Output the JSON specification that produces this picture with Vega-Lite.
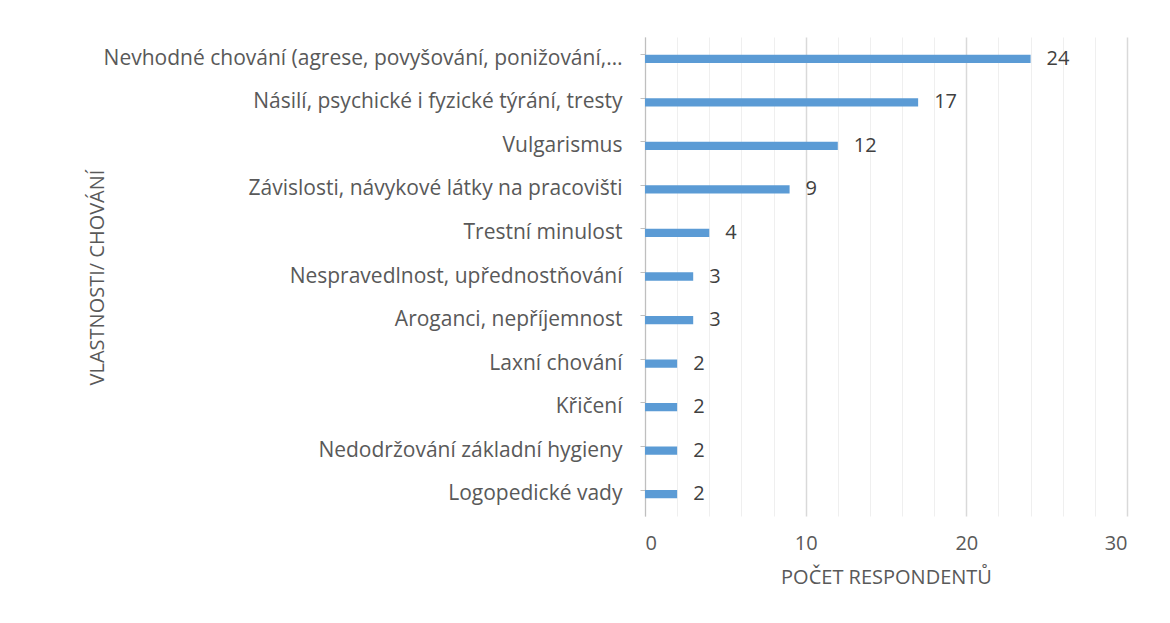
{
  "$schema": "https://vega.github.io/schema/vega-lite/v6.json",
  "autosize": "none",
  "width": 482,
  "height": 479,
  "padding": {"left": 645, "top": 37, "right": 43, "bottom": 107},
  "background": "white",
  "config": {
    "view": {"stroke": null},
    "font": "Open Sans"
  },
  "data": {
    "values": [
      {"kategorie": "Nevhodné chování (agrese, povyšování, ponižování,…", "pocet": 24},
      {"kategorie": "Násilí, psychické i fyzické týrání, tresty", "pocet": 17},
      {"kategorie": "Vulgarismus", "pocet": 12},
      {"kategorie": "Závislosti, návykové látky na pracovišti", "pocet": 9},
      {"kategorie": "Trestní minulost", "pocet": 4},
      {"kategorie": "Nespravedlnost, upřednostňování", "pocet": 3},
      {"kategorie": "Aroganci, nepříjemnost", "pocet": 3},
      {"kategorie": "Laxní chování", "pocet": 2},
      {"kategorie": "Křičení", "pocet": 2},
      {"kategorie": "Nedodržování základní hygieny", "pocet": 2},
      {"kategorie": "Logopedické vady", "pocet": 2}
    ]
  },
  "encoding": {
    "y": {
      "field": "kategorie",
      "type": "nominal",
      "sort": null,
      "scale": {"paddingInner": 0.81, "paddingOuter": 0.405},
      "axis": {
        "title": "VLASTNOSTI/ CHOVÁNÍ",
        "titleFont": "Open Sans",
        "titleFontSize": 20,
        "titleFontWeight": "normal",
        "titleColor": "#595959",
        "titleX": -548,
        "titleY": 240,
        "titleAngle": 270,
        "titleBaseline": "middle",
        "titleAlign": "center",
        "labelFont": "Open Sans",
        "labelFontSize": 21,
        "labelColor": "#595959",
        "labelPadding": 18,
        "labelLimit": 700,
        "bandPosition": 0,
        "domainColor": "#bfbfbf",
        "tickColor": "#bfbfbf",
        "tickSize": 5,
        "grid": false
      }
    },
    "x": {
      "field": "pocet",
      "type": "quantitative",
      "scale": {"domain": [0, 30], "nice": false},
      "axis": {
        "title": "POČET RESPONDENTŮ",
        "titleFont": "Open Sans",
        "titleFontSize": 20,
        "titleFontWeight": "normal",
        "titleColor": "#595959",
        "titlePadding": 14,
        "values": [0, 2, 4, 6, 8, 10, 12, 14, 16, 18, 20, 22, 24, 26, 28, 30],
        "labelExpr": "datum.value % 10 === 0 ? datum.label : ''",
        "labelFont": "Open Sans",
        "labelFontSize": 20,
        "labelColor": "#595959",
        "labelPadding": 17,
        "ticks": false,
        "domain": false,
        "grid": true,
        "gridColor": {"condition": {"test": "datum.value % 10 === 0", "value": "#d9d9d9"}, "value": "#efefef"},
        "gridWidth": {"condition": {"test": "datum.value % 10 === 0", "value": 1.5}, "value": 1}
      }
    }
  },
  "layer": [
    {"mark": {"type": "bar", "color": "#5B9BD5"}},
    {
      "mark": {"type": "text", "align": "left", "baseline": "middle", "dx": 16, "fontSize": 20, "color": "#404040", "font": "Open Sans"},
      "encoding": {"text": {"field": "pocet", "type": "quantitative"}}
    }
  ]
}
